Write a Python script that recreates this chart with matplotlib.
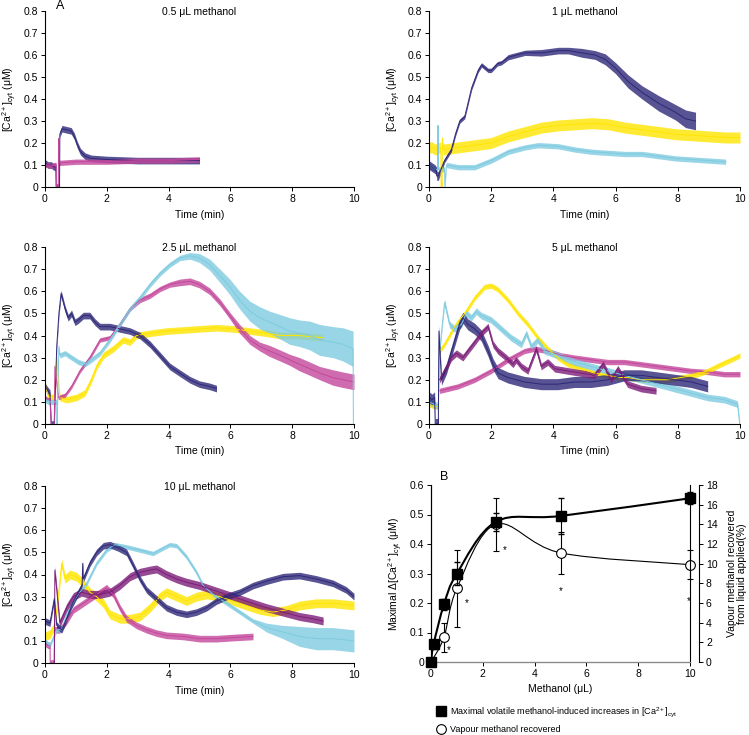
import numpy as np
import matplotlib.pyplot as plt
from matplotlib.path import Path
from matplotlib.patches import PathPatch
from matplotlib.lines import Line2D
from matplotlib.ticker import FuncFormatter

plt.rcParams['font.family'] = ['Liberation Sans', 'DejaVu Sans']
plt.rcParams['mathtext.fontset'] = 'custom'
plt.rcParams['mathtext.rm'] = 'Liberation Sans'
plt.rcParams['mathtext.it'] = 'Liberation Sans:italic'
plt.rcParams['mathtext.default'] = 'regular'

navy = '#2e2878'
pink = '#c4479b'
yellow = '#ffe500'
lblue = '#7fcbe0'
purple = '#7c1d78'

# ---- A: 0.5 uL methanol ----
p05_navy_t = [0, 0.1, 0.2, 0.3, 0.35, 0.36, 0.47, 0.48, 0.55, 0.7, 0.85, 0.95, 1.05, 1.15, 1.3, 1.5, 2, 3, 4, 5]
p05_navy_y = [0.11, 0.10, 0.10, 0.09, 0.09, 0, 0, 0.24, 0.265, 0.26, 0.255, 0.23, 0.19, 0.16, 0.14, 0.13, 0.125, 0.12, 0.12, 0.12]
p05_navy_s = 0.015
p05_pink_t = [0, 0.1, 0.2, 0.3, 0.36, 0.37, 0.43, 0.44, 0.45, 0.5, 1, 2, 3, 4, 5]
p05_pink_y = [0.10, 0.10, 0.095, 0.10, 0.10, 0, 0, 0.22, 0.11, 0.11, 0.115, 0.115, 0.12, 0.12, 0.125]
p05_pink_s = 0.012

# ---- A: 1 uL methanol ----
p1_navy_t = [0, 0.1, 0.2, 0.24, 0.25, 0.3, 0.5, 0.72, 0.85, 0.99, 1.15, 1.37, 1.58, 1.69, 1.9, 2.0, 2.2, 2.33, 2.55, 3.09,
             3.62, 4.16, 4.48, 4.91, 5.34, 5.67, 6.0, 6.4, 6.85, 7.39, 7.92, 8.25, 8.57]
p1_navy_y = [0.10, 0.09, 0.08, 0.07, 0.05, 0.05, 0.12, 0.17, 0.24, 0.30, 0.32, 0.45, 0.53, 0.555, 0.53, 0.53, 0.56, 0.565, 0.59, 0.61,
             0.61, 0.62, 0.62, 0.61, 0.60, 0.58, 0.54, 0.48, 0.43, 0.38, 0.34, 0.31, 0.30]
p1_navy_s = [0.02, 0.02, 0.02, 0.02, 0.02, 0.02, 0.01, 0.01, 0.01, 0.01, 0.01, 0.01, 0.01, 0.01, 0.01, 0.01, 0.01, 0.01, 0.012, 0.012,
             0.015, 0.015, 0.015, 0.02, 0.02, 0.025, 0.025, 0.03, 0.03, 0.035, 0.035, 0.04, 0.04]
p1_yellow_t = [0, 0.1, 0.2, 0.38, 0.39, 0.42, 0.43, 0.45, 0.94, 1.47, 2.0, 2.55, 3.09, 3.62, 4.16, 4.7, 5.24, 5.77, 6.3, 6.85,
               7.39, 7.92, 8.46, 9.0, 9.54, 10]
p1_yellow_y = [0.18, 0.18, 0.17, 0.18, 0, 0, 0.22, 0.17, 0.18, 0.19, 0.20, 0.23, 0.25, 0.27, 0.28, 0.285, 0.29, 0.285, 0.27, 0.26,
               0.25, 0.24, 0.235, 0.23, 0.225, 0.225]
p1_yellow_s = 0.025
p1_lblue_t = [0, 0.1, 0.2, 0.28, 0.29, 0.3, 0.5, 0.51, 0.56, 0.94, 1.47, 2.0, 2.55, 3.09, 3.5, 4.16, 4.7, 5.24, 5.77, 6.3,
              6.85, 7.39, 7.92, 8.46, 9.0, 9.54]
p1_lblue_y = [0.10, 0.09, 0.08, 0.08, 0.28, 0.08, 0.08, 0, 0.10, 0.09, 0.09, 0.12, 0.16, 0.18, 0.19, 0.185, 0.17, 0.16, 0.155, 0.15,
              0.15, 0.14, 0.13, 0.125, 0.12, 0.115]
p1_lblue_s = 0.012

# ---- A: 2.5 uL methanol ----
p25_navy_t = [0, 0.1, 0.16, 0.2, 0.3, 0.38, 0.45, 0.52, 0.65, 0.75, 0.86, 0.97, 1.08, 1.24, 1.45, 1.62, 1.78, 2.1, 2.42, 2.75,
              3.07, 3.4, 3.72, 4.04, 4.36, 4.69, 5.0, 5.33, 5.55]
p25_navy_y = [0.17, 0.15, 0.14, 0, 0, 0.35, 0.5, 0.59, 0.52, 0.48, 0.5, 0.46, 0.47, 0.49, 0.49, 0.46, 0.44, 0.44, 0.43, 0.42,
              0.40, 0.36, 0.31, 0.26, 0.23, 0.20, 0.18, 0.17, 0.16]
p25_navy_s = 0.015
p25_pink_t = [0, 0.1, 0.16, 0.2, 0.3, 0.32, 0.43, 0.65, 0.86, 1.13, 1.45, 1.78, 2.1, 2.42, 2.75, 3.07, 3.4, 3.72, 4.04, 4.36,
              4.69, 5.0, 5.33, 5.66, 5.98, 6.3, 6.63, 6.95, 7.27, 7.6, 7.92, 8.24, 8.57, 8.89, 9.32, 9.64, 10]
p25_pink_y = [0.12, 0.11, 0.11, 0, 0, 0.26, 0.12, 0.13, 0.17, 0.24, 0.30, 0.38, 0.39, 0.45, 0.52, 0.56, 0.58, 0.61, 0.63, 0.64,
              0.645, 0.63, 0.60, 0.55, 0.49, 0.43, 0.38, 0.35, 0.33, 0.31, 0.29, 0.27, 0.25, 0.23, 0.21, 0.20, 0.19]
p25_pink_s = [0.01, 0.01, 0.01, 0, 0, 0.01, 0.01, 0.01, 0.01, 0.01, 0.01, 0.01, 0.01, 0.01, 0.01, 0.012, 0.012, 0.012, 0.012, 0.015,
              0.015, 0.015, 0.015, 0.015, 0.015, 0.02, 0.02, 0.02, 0.025, 0.025, 0.025, 0.03, 0.03, 0.03, 0.035, 0.035, 0.035]
p25_lblue_t = [0, 0.1, 0.16, 0.3, 0.38, 0.39, 0.45, 0.48, 0.65, 0.86, 1.08, 1.29, 1.5, 1.78, 2.1, 2.42, 2.75, 3.07, 3.4, 3.72,
               4.04, 4.36, 4.69, 5.0, 5.33, 5.66, 5.98, 6.3, 6.63, 6.95, 7.27, 7.6, 7.92, 8.24, 8.57, 8.89, 9.32, 9.64, 9.97, 9.98]
p25_lblue_y = [0.11, 0.10, 0.10, 0.10, 0.10, 0, 0.35, 0.31, 0.32, 0.30, 0.28, 0.27, 0.29, 0.32, 0.38, 0.45, 0.52, 0.57, 0.63, 0.68,
               0.72, 0.75, 0.76, 0.75, 0.72, 0.67, 0.62, 0.56, 0.51, 0.48, 0.46, 0.44, 0.42, 0.41, 0.40, 0.38, 0.37, 0.36, 0.34, 0]
p25_lblue_s = [0.012, 0.012, 0.012, 0.012, 0.012, 0.012, 0.012, 0.012, 0.012, 0.012, 0.012, 0.012, 0.012, 0.012, 0.012, 0.012,
               0.012, 0.012, 0.012, 0.012, 0.012, 0.012, 0.015, 0.02, 0.025, 0.03, 0.035, 0.04, 0.045, 0.05, 0.05, 0.055,
               0.06, 0.06, 0.065, 0.07, 0.07, 0.075, 0.08, 0]
p25_yellow_t = [0, 0.1, 0.16, 0.3, 0.38, 0.48, 0.7, 1.02, 1.29, 1.5, 1.67, 1.89, 2.21, 2.53, 2.75, 2.96, 3.4, 3.93, 4.47, 5.0,
                5.55, 6.09, 6.63, 7.17, 7.6, 8.2, 9.0]
p25_yellow_y = [0.18, 0.13, 0.12, 0.12, 0.30, 0.12, 0.11, 0.12, 0.14, 0.20, 0.26, 0.31, 0.34, 0.38, 0.37, 0.40, 0.41, 0.42, 0.425, 0.43,
                0.435, 0.43, 0.42, 0.41, 0.40, 0.40, 0.39]
p25_yellow_s = 0.015

# ---- A: 5 uL methanol ----
p5_yellow_t = [0, 0.15, 0.3, 0.34, 0.5, 0.82, 1.15, 1.47, 1.79, 2.0, 2.2, 2.54, 2.86, 3.18, 3.5, 3.82, 4.14, 4.46, 4.89, 5.32,
               5.75, 6.07, 6.39, 6.82, 7.25, 7.68, 8.1, 8.53, 8.96, 9.39, 9.71, 10]
p5_yellow_y = [0.09, 0.08, 0.08, 0.33, 0.36, 0.44, 0.50, 0.57, 0.62, 0.625, 0.61, 0.56, 0.50, 0.45, 0.39, 0.34, 0.30, 0.27, 0.25, 0.23,
               0.22, 0.21, 0.21, 0.20, 0.20, 0.20, 0.21, 0.22, 0.24, 0.27, 0.29, 0.31]
p5_yellow_s = 0.012
p5_lblue_t = [0, 0.15, 0.3, 0.32, 0.5, 0.66, 0.82, 1.04, 1.2, 1.36, 1.52, 1.68, 2.0, 2.32, 2.64, 2.97, 3.13, 3.29, 3.5, 3.72,
              4.14, 4.68, 5.21, 5.75, 6.28, 6.82, 7.36, 7.89, 8.43, 8.96, 9.5, 9.92, 9.99]
p5_lblue_y = [0.10, 0.09, 0.08, 0.30, 0.55, 0.45, 0.43, 0.45, 0.50, 0.48, 0.51, 0.49, 0.47, 0.43, 0.39, 0.36, 0.41, 0.35, 0.38, 0.33,
              0.31, 0.28, 0.26, 0.24, 0.22, 0.20, 0.18, 0.16, 0.14, 0.12, 0.11, 0.09, 0]
p5_lblue_s = 0.015
p5_navy_t = [0, 0.1, 0.18, 0.2, 0.3, 0.32, 0.4, 0.56, 0.77, 0.98, 1.09, 1.25, 1.47, 1.68, 1.9, 2.06, 2.22, 2.54, 3.07, 3.61,
             4.14, 4.68, 5.21, 5.75, 6.28, 6.82, 7.36, 7.89, 8.43, 8.96]
p5_navy_y = [0.12, 0.11, 0.12, 0, 0, 0.42, 0.20, 0.25, 0.35, 0.45, 0.48, 0.45, 0.43, 0.40, 0.33, 0.27, 0.23, 0.21, 0.19, 0.18,
             0.18, 0.19, 0.19, 0.20, 0.22, 0.22, 0.21, 0.20, 0.19, 0.17]
p5_navy_s = 0.025
p5_purple_t = [0.34, 0.5, 0.72, 0.88, 1.09, 1.25, 1.47, 1.68, 1.9, 2.06, 2.22, 2.48, 2.7, 2.8, 2.97, 3.18, 3.45, 3.61, 3.82, 4.04,
               4.46, 4.89, 5.32, 5.6, 5.86, 6.07, 6.39, 6.82, 7.3]
p5_purple_y = [0.20, 0.24, 0.30, 0.32, 0.30, 0.33, 0.37, 0.41, 0.44, 0.36, 0.33, 0.30, 0.27, 0.29, 0.26, 0.24, 0.34, 0.26, 0.28, 0.25,
               0.24, 0.23, 0.22, 0.27, 0.20, 0.25, 0.18, 0.16, 0.15]
p5_purple_s = 0.015
p5_pink_t = [0.34, 0.93, 1.47, 2.0, 2.54, 3.07, 3.39, 3.82, 4.25, 4.68, 5.21, 5.75, 6.28, 6.82, 7.36, 7.89, 8.43, 8.96, 9.5, 10]
p5_pink_y = [0.15, 0.17, 0.20, 0.24, 0.29, 0.33, 0.34, 0.33, 0.31, 0.30, 0.29, 0.28, 0.28, 0.27, 0.26, 0.25, 0.24, 0.235, 0.225, 0.225]
p5_pink_s = 0.012

# ---- A: 10 uL methanol ----
p10_navy_t = [0, 0.16, 0.3, 0.38, 0.54, 0.7, 0.86, 1.08, 1.2, 1.22, 1.24, 1.45, 1.67, 1.89, 2.1, 2.37, 2.64, 2.86, 3.07, 3.29,
              3.61, 3.93, 4.26, 4.58, 4.9, 5.23, 5.55, 5.87, 6.3, 6.73, 7.17, 7.7, 8.24, 8.78, 9.32, 9.75, 10]
p10_navy_y = [0.19, 0.18, 0.29, 0.17, 0.15, 0.20, 0.26, 0.32, 0.35, 0.45, 0.38, 0.45, 0.50, 0.53, 0.535, 0.52, 0.50, 0.44, 0.38, 0.33,
              0.29, 0.25, 0.23, 0.22, 0.23, 0.25, 0.28, 0.30, 0.32, 0.35, 0.37, 0.39, 0.395, 0.38, 0.36, 0.33, 0.30]
p10_navy_s = 0.015
p10_lblue_t = [0, 0.16, 0.38, 0.54, 0.7, 1.02, 1.35, 1.67, 1.99, 2.26, 2.64, 3.07, 3.5, 3.83, 4.04, 4.26, 4.58, 4.9, 5.12, 5.44,
               5.77, 6.09, 6.41, 6.73, 7.17, 7.7, 8.24, 8.78, 9.32, 10]
p10_lblue_y = [0.10, 0.08, 0.15, 0.15, 0.22, 0.30, 0.36, 0.45, 0.51, 0.535, 0.525, 0.51, 0.495, 0.52, 0.535, 0.53, 0.48, 0.41, 0.35, 0.31,
               0.28, 0.25, 0.22, 0.19, 0.16, 0.14, 0.12, 0.11, 0.11, 0.10]
p10_lblue_s = [0.01, 0.01, 0.01, 0.01, 0.01, 0.01, 0.01, 0.01, 0.01, 0.01, 0.01, 0.01, 0.01, 0.01, 0.01, 0.01, 0.01, 0.01, 0.01, 0.01,
               0.01, 0.01, 0.01, 0.01, 0.02, 0.03, 0.045, 0.05, 0.05, 0.05]
p10_purple_t = [0.3, 0.32, 0.48, 0.7, 0.92, 1.18, 1.45, 1.78, 2.1, 2.42, 2.75, 3.07, 3.4, 3.61, 3.93, 4.26, 4.58, 5.01, 5.44, 5.87,
                6.3, 6.73, 7.17, 7.7, 8.24, 8.67, 9.0]
p10_purple_y = [0.0, 0.42, 0.18, 0.25, 0.30, 0.32, 0.31, 0.31, 0.32, 0.35, 0.39, 0.41, 0.42, 0.425, 0.40, 0.38, 0.365, 0.35, 0.33, 0.31,
                0.29, 0.27, 0.25, 0.23, 0.21, 0.20, 0.19]
p10_purple_s = 0.018
p10_pink_t = [0, 0.1, 0.16, 0.17, 0.3, 0.31, 0.48, 0.7, 0.92, 1.24, 1.56, 1.78, 1.99, 2.21, 2.42, 2.64, 2.96, 3.29, 3.61, 3.93,
              4.47, 5.01, 5.55, 6.09, 6.73]
p10_pink_y = [0.09, 0.08, 0.08, 0, 0, 0.15, 0.15, 0.19, 0.24, 0.27, 0.30, 0.32, 0.34, 0.31, 0.25, 0.20, 0.17, 0.15, 0.135, 0.125,
              0.12, 0.11, 0.11, 0.115, 0.12]
p10_pink_s = 0.015
p10_yellow_t = [0, 0.16, 0.32, 0.43, 0.54, 0.65, 0.81, 1.02, 1.24, 1.45, 1.67, 1.89, 2.1, 2.42, 2.75, 3.07, 3.4, 3.72, 3.93, 4.26,
                4.58, 4.9, 5.23, 5.66, 6.09, 6.52, 6.95, 7.38, 7.81, 8.24, 8.78, 9.32, 10]
p10_yellow_y = [0.12, 0.13, 0.17, 0.30, 0.45, 0.38, 0.40, 0.39, 0.36, 0.32, 0.30, 0.27, 0.22, 0.20, 0.20, 0.21, 0.25, 0.30, 0.32, 0.30,
                0.28, 0.30, 0.31, 0.30, 0.28, 0.26, 0.24, 0.23, 0.24, 0.26, 0.27, 0.27, 0.26]
p10_yellow_s = 0.02

# ---- B: dose response ----
doses = [0, 0.1, 0.5, 1, 2.5, 5, 10]
ca_max = [0.0, 0.06, 0.195, 0.30, 0.475, 0.495, 0.555]
ca_err = [0.0, 0.015, 0.02, 0.04, 0.03, 0.06, 0.02]
vap_doses = [0, 0.5, 1, 2.5, 5, 10]
vap_pct = [0, 2.5, 7.5, 14.0, 11.1, 9.9]
vap_err = [0, 1.5, 3.9, 2.7, 2.1, 1.5]
star_x = [0.7, 1.4, 2.85, 5, 9.95]
star_y = [0.04, 0.2, 0.38, 0.24, 0.205]

panels = [
    ('0.5 μL methanol', [(p05_navy_t, p05_navy_y, p05_navy_s, navy),
                         (p05_pink_t, p05_pink_y, p05_pink_s, pink)]),
    ('1 μL methanol', [(p1_yellow_t, p1_yellow_y, p1_yellow_s, yellow),
                       (p1_lblue_t, p1_lblue_y, p1_lblue_s, lblue),
                       (p1_navy_t, p1_navy_y, p1_navy_s, navy)]),
    ('2.5 μL methanol', [(p25_yellow_t, p25_yellow_y, p25_yellow_s, yellow),
                         (p25_navy_t, p25_navy_y, p25_navy_s, navy),
                         (p25_pink_t, p25_pink_y, p25_pink_s, pink),
                         (p25_lblue_t, p25_lblue_y, p25_lblue_s, lblue)]),
    ('5 μL methanol', [(p5_pink_t, p5_pink_y, p5_pink_s, pink),
                       (p5_yellow_t, p5_yellow_y, p5_yellow_s, yellow),
                       (p5_lblue_t, p5_lblue_y, p5_lblue_s, lblue),
                       (p5_navy_t, p5_navy_y, p5_navy_s, navy),
                       (p5_purple_t, p5_purple_y, p5_purple_s, purple)]),
    ('10 μL methanol', [(p10_yellow_t, p10_yellow_y, p10_yellow_s, yellow),
                        (p10_pink_t, p10_pink_y, p10_pink_s, pink),
                        (p10_lblue_t, p10_lblue_y, p10_lblue_s, lblue),
                        (p10_purple_t, p10_purple_y, p10_purple_s, purple),
                        (p10_navy_t, p10_navy_y, p10_navy_s, navy)]),
]

W, H = 749, 735
fig = plt.figure(figsize=(W / 100, H / 100), dpi=100)


def px_axes(left, right, top, bottom):
    return fig.add_axes([left / W, 1 - bottom / H, (right - left) / W, (bottom - top) / H])


fmt = FuncFormatter(lambda v, p: f'{v:g}')
boxes = [(45, 354, 11, 187), (429, 740, 11, 187), (45, 354, 247, 424), (429, 740, 247, 424), (45, 354, 486, 663)]

for (title, traces), box in zip(panels, boxes):
    ax = px_axes(*box)
    for t, y, s, c in traces:
        t = np.asarray(t)
        y = np.asarray(y)
        s = np.asarray(s)
        ax.fill_between(t, y - s, y + s, color=c, alpha=0.8, lw=0)
        ax.plot(t, y, color=c, lw=0.7)
    ax.set_xlim(0, 10)
    ax.set_ylim(0, 0.8)
    ax.set_xticks(np.arange(0, 11, 2))
    ax.set_yticks(np.arange(0, 0.81, 0.1))
    ax.yaxis.set_major_formatter(fmt)
    ax.spines[['top', 'right']].set_visible(False)
    ax.tick_params(labelsize=7.5, length=3, width=0.7, pad=2)
    ax.set_xlabel('Time (min)', fontsize=7.5, labelpad=4)
    ax.set_ylabel('[Ca$^{2+}$]$_{cyt}$ (μM)', fontsize=7.5, labelpad=3)
    ax.text(0.5, 0.995, title, transform=ax.transAxes, ha='center', va='center', fontsize=7.5)

fig.text(60 / W, 1 - 6 / H, 'A', fontsize=9, ha='center', va='center')
fig.text(444 / W, 1 - 477 / H, 'B', fontsize=9, ha='center', va='center')


def smooth(ax, xs, ys, lw):
    p = np.column_stack([xs, ys]).astype(float)
    ext = np.vstack([p[0], p, p[-1]])
    verts = [p[0]]
    codes = [Path.MOVETO]
    for i in range(len(p) - 1):
        c1 = ext[i + 1] + (ext[i + 2] - ext[i]) / 6
        c2 = ext[i + 2] - (ext[i + 3] - ext[i + 1]) / 6
        verts += [c1, c2, ext[i + 2]]
        codes += [Path.CURVE4] * 3
    ax.add_patch(PathPatch(Path(verts, codes), fill=False, lw=lw, color='black'))


axb = px_axes(431, 690, 485, 662)
axr = axb.twinx()
axb.set_zorder(axr.get_zorder() + 1)
axb.patch.set_visible(False)

axb.set_xlim(0, 10)
axb.set_ylim(0, 0.6)
axr.set_ylim(0, 18)

smooth(axr, vap_doses, vap_pct, 0.8)
axr.errorbar(vap_doses, vap_pct, yerr=vap_err, fmt='o', ms=7, mfc='white', mec='black', mew=0.8,
             ecolor='black', elinewidth=0.8, capsize=2, clip_on=False, zorder=3)
smooth(axb, doses, ca_max, 1.5)
axb.errorbar(doses, ca_max, yerr=ca_err, fmt='s', ms=7.5, color='black', ecolor='black',
             elinewidth=0.8, capsize=2, clip_on=False, zorder=3)
for x, y in zip(star_x, star_y):
    axb.text(x, y, '*', ha='center', va='center', fontsize=7)

axb.set_xticks(np.arange(0, 11, 2))
axb.set_yticks(np.arange(0, 0.61, 0.1))
axb.yaxis.set_major_formatter(fmt)
axr.set_yticks(np.arange(0, 19, 2))
axr.spines['right'].set_position(('outward', 6.5))
for a in (axb, axr):
    a.spines['top'].set_visible(False)
    a.tick_params(labelsize=7.5, length=3, width=0.7, pad=2)
axb.spines['bottom'].set_color('#888888')
axb.set_xlabel('Methanol (μL)', fontsize=7.5, labelpad=4)
axb.set_ylabel('Maximal Δ[Ca$^{2+}$]$_{cyt}$ (μM)', fontsize=7.5, labelpad=3)
axr.set_ylabel('Vapour methanol recovered\nfrom liquid applied(%)', fontsize=7.5, rotation=90,
               labelpad=7, linespacing=1.0)

handles = [Line2D([], [], marker='s', color='black', ls='none', ms=7.5),
           Line2D([], [], marker='o', ls='none', ms=7, mfc='white', mec='black', mew=0.8)]
labels = ['Maximal volatile methanol-induced increases in [Ca$^{2+}$]$_{cyt}$', 'Vapour methanol recovered']
fig.legend(handles, labels, loc='upper left', bbox_to_anchor=(437 / W, 1 - 705 / H), frameon=False,
           fontsize=6.5, handlelength=0.9, handletextpad=0.5, labelspacing=0.7, borderpad=0, borderaxespad=0)

fig.savefig('out.png', dpi=100)
